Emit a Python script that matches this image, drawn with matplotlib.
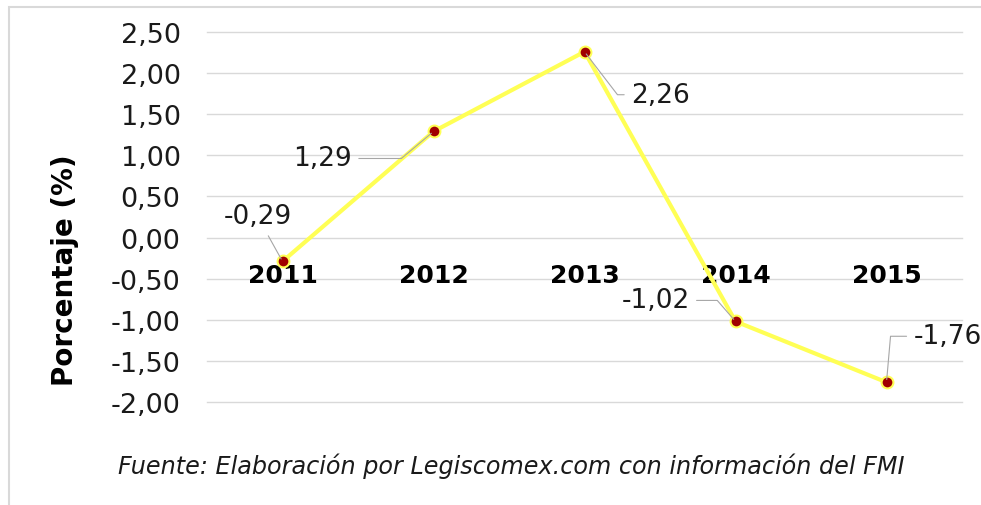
import matplotlib
matplotlib.use("Agg")
from matplotlib import pyplot as plt
from matplotlib.patches import Rectangle
from matplotlib.ticker import FuncFormatter

# Datos del grafico
years = ["2011", "2012", "2013", "2014", "2015"]
values = [-0.29, 1.29, 2.26, -1.02, -1.76]
value_labels = ["-0,29", "1,29", "2,26", "-1,02", "-1,76"]
y_ticks = [2.5, 2.0, 1.5, 1.0, 0.5, 0.0, -0.5, -1.0, -1.5, -2.0]

plt.rcParams['font.family'] = ['DejaVu Sans']

fig = plt.figure(figsize=(9.81, 5.06), dpi=100)
ax = fig.add_axes([207 / 981, 103 / 506, 755 / 981, 370 / 506])

x = list(range(len(years)))
ax.plot(x, values, color='#FFFF55', lw=3, zorder=3,
        marker='o', markersize=8.5, markerfacecolor='#A00000',
        markeredgecolor='#FFFF55', markeredgewidth=1.5)

ax.set_xlim(-0.5, len(years) - 0.5)
ax.set_ylim(-2.0, 2.5)
ax.set_yticks(y_ticks)
ax.yaxis.set_major_formatter(FuncFormatter(lambda v, p: f"{v:.2f}".replace('.', ',')))
ax.tick_params(axis='y', length=0, pad=19, labelsize=19.5, labelcolor='#1a1a1a')
ax.set_xticks([])
ax.grid(axis='y', color='#D9D9D9', lw=1)
for gl in ax.get_ygridlines():
    gl.set_clip_on(False)
ax.set_axisbelow(True)
for s in ax.spines.values():
    s.set_visible(False)

# etiquetas de categoria sobre el eje 0
for i, yr in enumerate(years):
    ax.text(i, -0.45, yr, ha='center', va='center', fontsize=18,
            fontweight='bold', color='black', zorder=2)

# etiquetas de datos con lineas guia (offset en pixeles)
label_offsets = [(-25, 45), (-111, -27), (76, -43), (-80, 21), (27, 46)]
label_ha = ['center', 'center', 'center', 'center', 'left']
conn_styles = [
    "arc3,rad=0",
    "angle,angleA=0,angleB=40,rad=0",
    "angle,angleA=0,angleB=127.5,rad=0",
    "angle,angleA=0,angleB=131,rad=0",
    "angle,angleA=0,angleB=85,rad=0",
]
for i, (val, lab) in enumerate(zip(values, value_labels)):
    ax.annotate(lab, xy=(i, val), xytext=label_offsets[i],
                textcoords='offset pixels', ha=label_ha[i], va='center',
                fontsize=19, color='#1a1a1a', annotation_clip=False,
                arrowprops=dict(arrowstyle='-', color='#A6A6A6', lw=0.8,
                                connectionstyle=conn_styles[i],
                                shrinkA=3, shrinkB=2))

fig.text(65 / 981, 1 - 270 / 506, "Porcentaje (%)", rotation=90,
         ha='center', va='center', fontsize=20, fontweight='bold')

fig.text(511 / 981, 1 - 466 / 506,
         "Fuente: Elaboración por Legiscomex.com con información del FMI",
         ha='center', va='center', fontsize=17.2, style='italic', color='#1a1a1a')

# marco gris
fig.add_artist(Rectangle((9 / 981, -0.1), 1.2, 1.1 - 8 / 506, transform=fig.transFigure,
                         fill=False, edgecolor='#D9D9D9', lw=1.5))

fig.savefig("out.png", dpi=100)
